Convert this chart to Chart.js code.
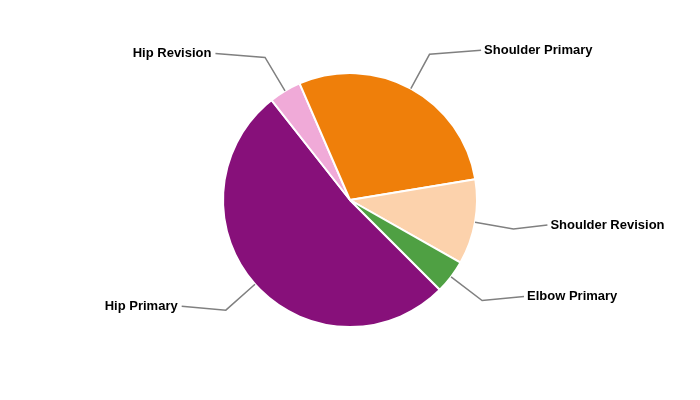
<!DOCTYPE html>
<html>
<head>
<meta charset="utf-8">
<script src="https://cdn.jsdelivr.net/npm/chart.js@4"></script>
<style>
html,body{margin:0;padding:0;background:#fff;}
#wrap{width:700px;height:400px;}
</style>
</head>
<body>
<div id="wrap"><canvas id="c" width="700" height="400"></canvas></div>
<script>
const categories = ["Hip Primary", "Hip Revision", "Shoulder Primary", "Shoulder Revision", "Elbow Primary"];
const values = [51.9, 4.1, 28.9, 10.8, 4.3];
const colors = ["#87107A", "#F0AAD8", "#EF7F0A", "#FCD2AC", "#4FA043"];

const leaderPlugin = {
  id: 'leaders',
  afterDatasetsDraw(chart) {
    const ctx = chart.ctx;
    const meta = chart.getDatasetMeta(0);
    ctx.save();
    meta.data.forEach((arc, i) => {
      const cx = arc.x, cy = arc.y, r = arc.outerRadius;
      const mid = (arc.startAngle + arc.endAngle) / 2;
      const ax = cx + Math.cos(mid) * r, ay = cy + Math.sin(mid) * r;
      const ex = cx + Math.cos(mid) * (r + 39), ey = cy + Math.sin(mid) * (r + 39);
      const right = Math.cos(mid) >= 0;
      const ly = ey - 4;
      const R = r + 72;
      const dy = ly - cy;
      const lx = cx + (right ? 1 : -1) * Math.sqrt(Math.max(0, R * R - dy * dy));
      ctx.strokeStyle = '#808080';
      ctx.lineWidth = 1.5;
      ctx.beginPath();
      ctx.moveTo(ax, ay);
      ctx.lineTo(ex, ey);
      ctx.lineTo(lx, ly);
      ctx.stroke();
      ctx.fillStyle = '#000';
      ctx.font = 'bold 13px "Liberation Sans", Arial, sans-serif';
      ctx.textBaseline = 'middle';
      ctx.textAlign = right ? 'left' : 'right';
      ctx.fillText(chart.data.labels[i], lx + (right ? 3 : -4), ly);
    });
    ctx.restore();
  }
};

new Chart(document.getElementById('c'), {
  type: 'pie',
  data: {
    labels: categories,
    datasets: [{
      data: values,
      backgroundColor: colors,
      borderColor: '#ffffff',
      borderWidth: 2
    }]
  },
  options: {
    responsive: false,
    animation: false,
    rotation: 135,
    layout: { padding: { top: 72, bottom: 72, left: 0, right: 0 } },
    plugins: { legend: { display: false }, tooltip: { enabled: false } }
  },
  plugins: [leaderPlugin]
});
</script>
</body>
</html>
